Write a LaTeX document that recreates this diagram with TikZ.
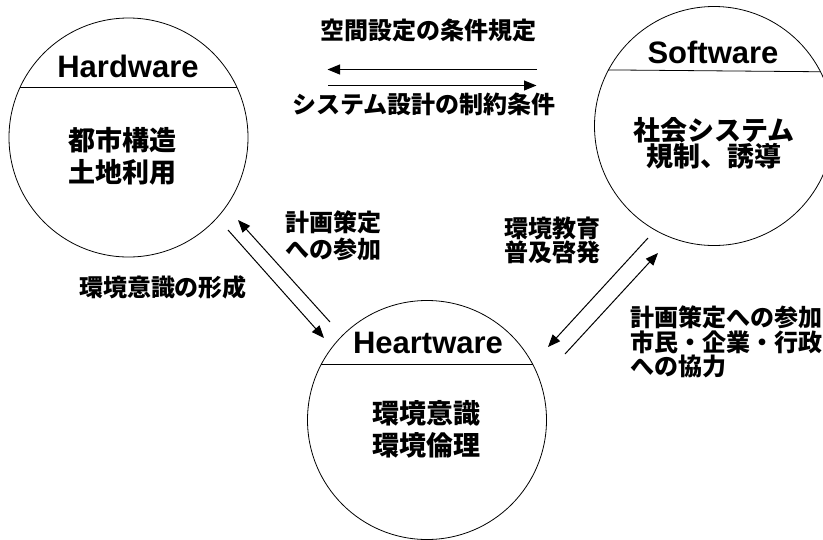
\documentclass[tikz,border=0pt]{standalone}
\usepackage{fontspec}
\setmainfont{Liberation Sans}
\newfontfamily\jp{Noto Sans CJK JP}
\usetikzlibrary{arrows.meta}
\begin{document}
\begin{tikzpicture}[x=1pt,y=-1pt,
  circ/.style={circle,draw,line width=0.8pt,minimum size=239pt,inner sep=0pt,outer sep=0pt},
  ttl/.style={font=\fontsize{31}{31}\selectfont\bfseries,inner sep=0pt},
  body/.style={font=\jp\bfseries\fontsize{27}{#1}\selectfont,align=center,inner sep=0pt},
  lbl/.style={font=\jp\bfseries\fontsize{24}{#1}\selectfont,align=left,inner sep=0pt},
  chord/.style={line width=0.8pt},
  arr/.style={line width=1pt,-{Triangle[length=12.5pt,width=10pt]}},
  ln/.style={line width=1pt}]
\useasboundingbox (0,0) rectangle (823,539);
% circles
\node[circ] (hw) at (128.5,137.5) {};
\node[circ] (sw) at (714,126) {};
\node[circ] (ht) at (427,420) {};
\draw[chord] (hw.155) -- (hw.25);
\draw[chord] (sw.152.5) -- (sw.27.5);
\draw[chord] (ht.152) -- (ht.28);
% titles
\node[ttl] (hwt) at (128,66.5) {Hardware};
\node[ttl] (swt) at (713,52) {Software};
\node[ttl] (htt) at (428,343) {Heartware};
% bodies
\node[body=32] (hwb) at (122,156) {都市構造\\土地利用};
\node[body=26] (swb) at (714,143) {社会システム\\規制、誘導};
\node[body=32] (htb) at (426,429) {環境意識\\環境倫理};
% top arrows
\coordinate (t1s) at (537,69.5);
\coordinate (t1e) at (327.5,69.5);
\coordinate (t2s) at (328,85.5);
\coordinate (t2e) at (536.5,85.5);
\draw[arr] (t1s) -- (t1e);
\draw[arr] (t2s) -- (t2e);
\node[lbl=25] (l1) at (428,30) {空間設定の条件規定};
\node[lbl=25] (l2) at (424,104) {システム設計の制約条件};
% left arrows
\coordinate (a1s) at (228,230);
\coordinate (a1e) at (324,338);
\coordinate (a2s) at (330,322);
\coordinate (a2e) at (238,220);
\draw[arr] (a1s) -- (a1e);
\draw[arr] (a2s) -- (a2e);
\node[lbl=27] (l3) at (333,236) {計画策定\\への参加};
\node[lbl=25] (l4) at (163,287) {環境意識の形成};
% right arrows
\coordinate (b1s) at (648,238);
\coordinate (b1e) at (548,347);
\coordinate (b2s) at (565,354);
\coordinate (b2e) at (658,253);
\draw[arr] (b1s) -- (b1e);
\draw[arr] (b2s) -- (b2e);
\node[lbl=24] (l5) at (552,240) {環境教育\\普及啓発};
\node[lbl=24.5,anchor=west] (l6) at (630.5,342) {計画策定への参加\\市民・企業・行政\\への協力};
\end{tikzpicture}
\end{document}
